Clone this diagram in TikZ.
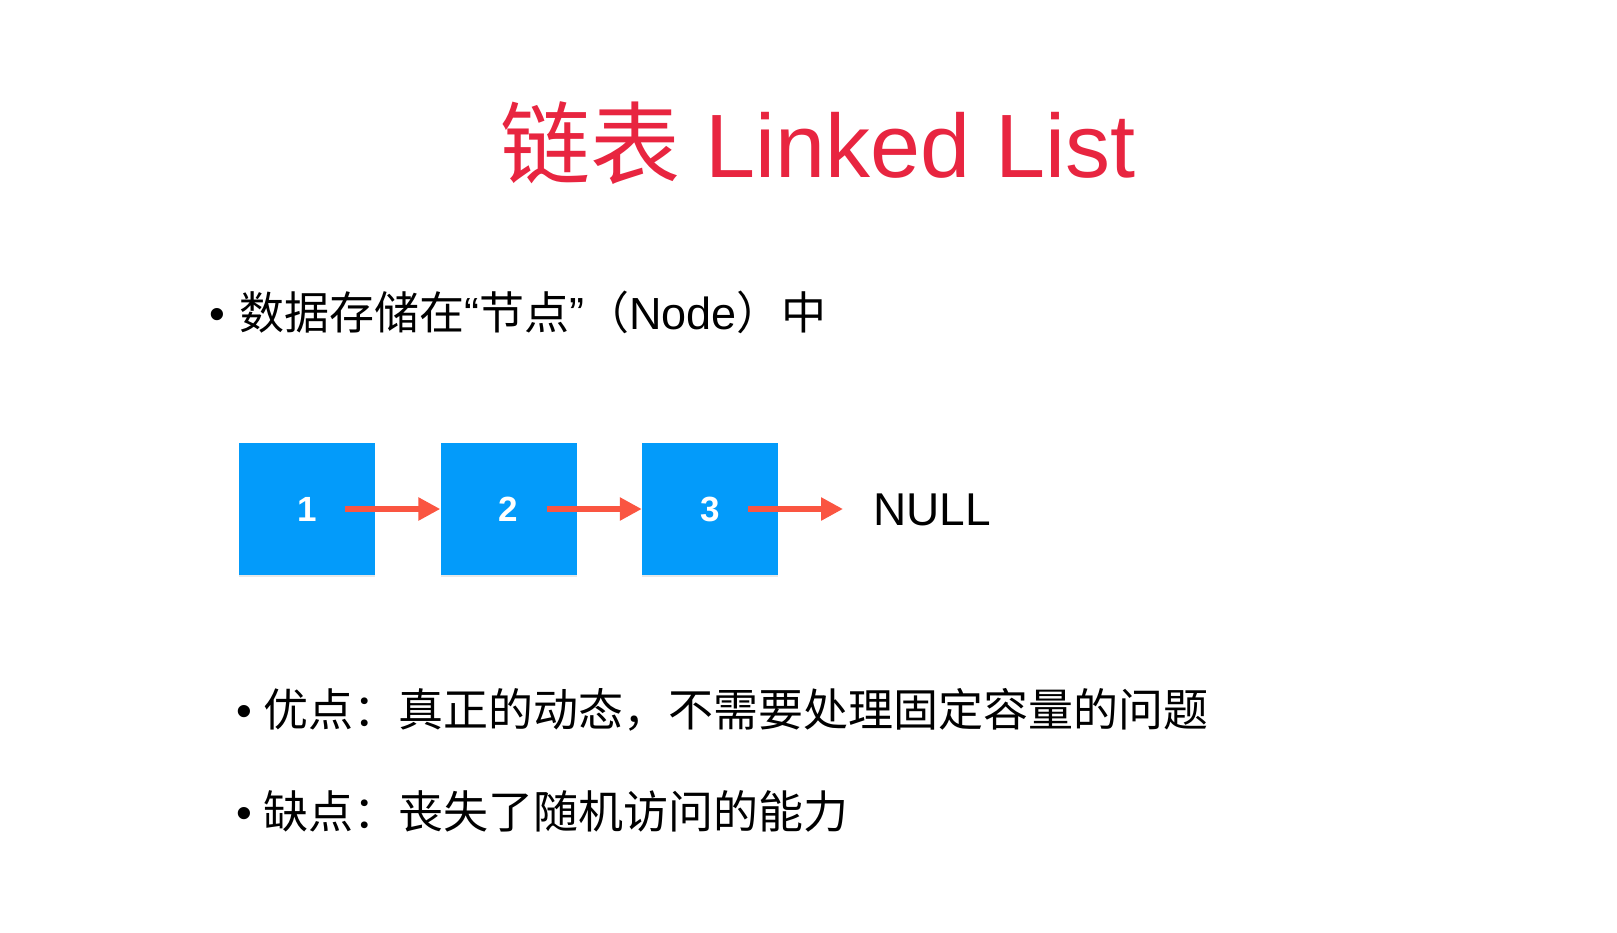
\documentclass[tikz,border=0pt]{standalone}
\usepackage{fontspec}
\setmainfont{Liberation Sans}
\newfontfamily\cjk{Noto Sans CJK SC}
\usetikzlibrary{arrows.meta,shadows}
\definecolor{titlered}{RGB}{232,37,64}
\definecolor{boxblue}{RGB}{3,155,250}
\definecolor{arrowred}{RGB}{250,85,65}
\begin{document}
\begin{tikzpicture}[x=1pt,y=-1pt,
  txt/.style={anchor=base west,inner sep=0pt,text=black,font=\fontsize{45}{50}\selectfont},
  listbox/.style={fill=boxblue,minimum width=136pt,minimum height=132pt,inner sep=0pt,
    text=white,font=\fontsize{35}{40}\selectfont\bfseries,
    drop shadow={opacity=0.18,shadow xshift=0pt,shadow yshift=-2pt}},
  link/.style={draw=arrowred,line width=6pt,-{Triangle[length=22pt,width=22pt]}}]
\fill[white] (0,0) rectangle (1617,932);
\useasboundingbox (0,0) rectangle (1617,932);

\node[anchor=base west,inner sep=0pt,text=titlered,font=\fontsize{90}{100}\selectfont]
  (title) at (500,177) {{\cjk 链表}\ Linked List};

\node[txt] (p1) at (209,329) {•\kern14.2pt{\cjk 数据存储在}“{\cjk 节点}”{\cjk （}Node{\cjk ）中}};

\node[listbox] (n1) at (307,509) {1};
\node[listbox] (n2) at (508.5,509) {2};
\node[listbox] (n3) at (710,509) {3};
\node[anchor=base west,inner sep=0pt,font=\fontsize{46}{52}\selectfont] (null) at (873,525) {NULL};

\draw[link] ([xshift=38pt]n1.center) -- (n2.west);
\draw[link] ([xshift=38pt]n2.center) -- (n3.west);
\draw[link] ([xshift=38pt]n3.center) -- ([xshift=-30pt]null.west |- n3.center);

\node[txt] (p2) at (236,726) {•\kern11.2pt{\cjk 优点：真正的动态，不需要处理固定容量的问题}};
\node[txt] (p3) at (236,828) {•\kern11.2pt{\cjk 缺点：丧失了随机访问的能力}};
\end{tikzpicture}
\end{document}
